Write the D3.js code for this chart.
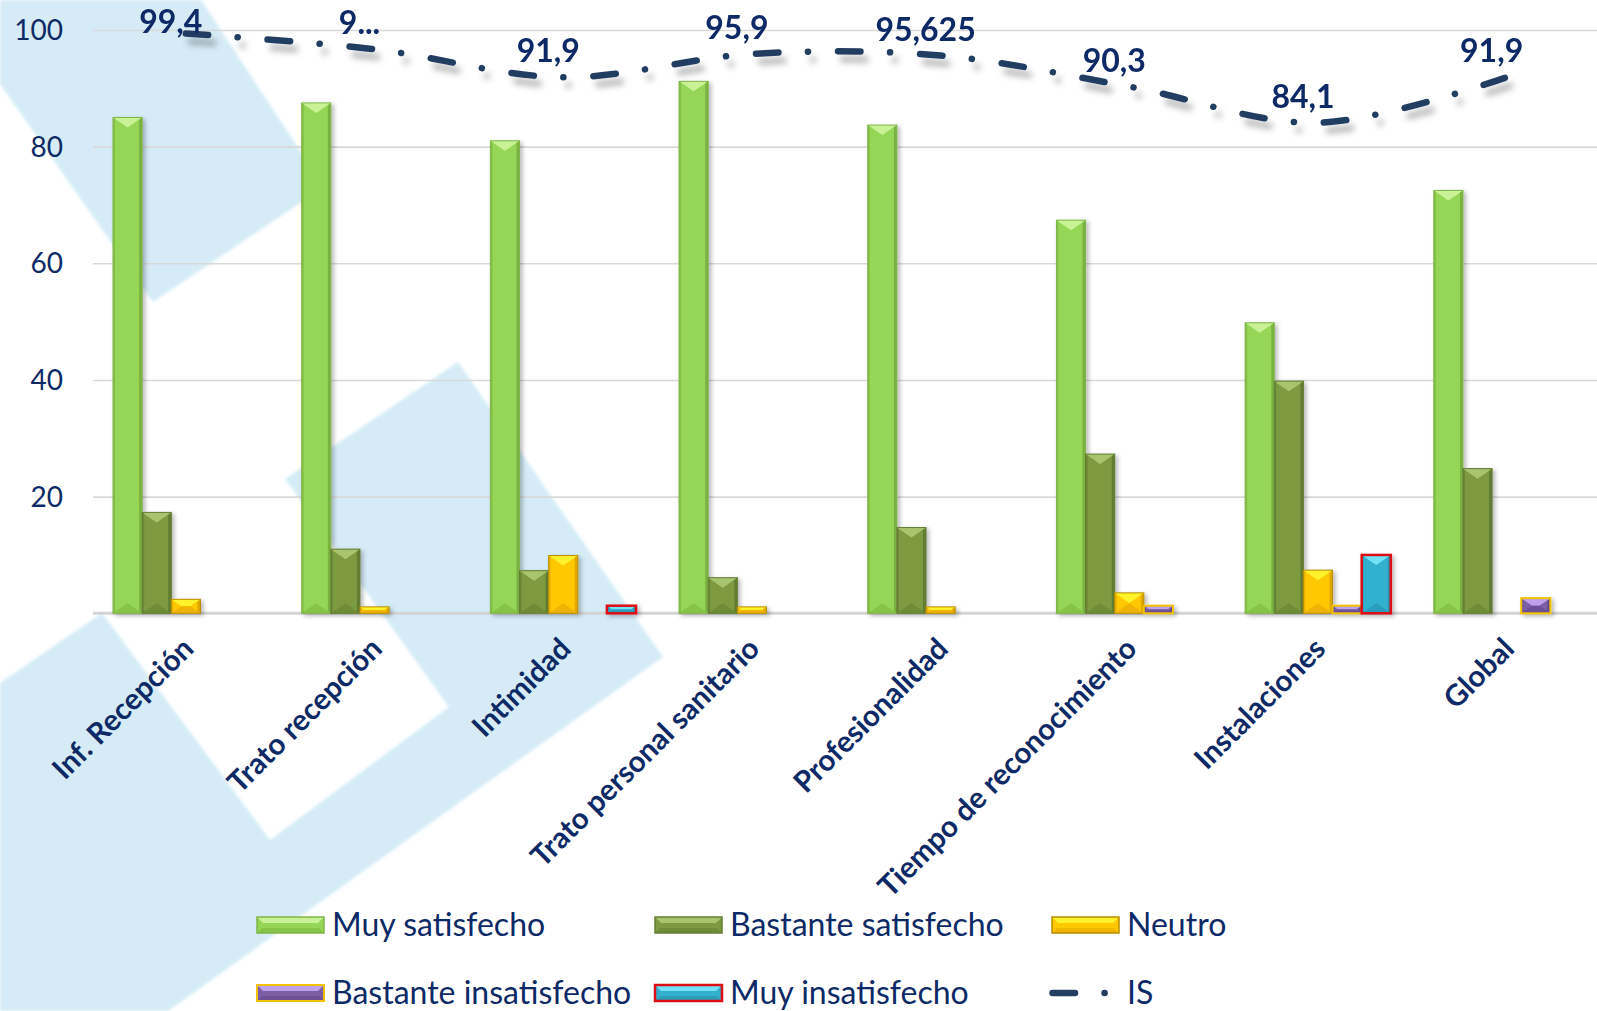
<!DOCTYPE html>
<html>
<head>
<meta charset="utf-8">
<script src="https://cdn.jsdelivr.net/npm/d3@7"></script>
<style>
  html, body { margin: 0; padding: 0; background: #ffffff; }
  svg { display: block; font-family: Lato, "Open Sans", sans-serif; }
</style>
</head>
<body>
<svg id="chart" width="1597" height="1011"></svg>
<script>
// ---- data -------------------------------------------------------------
const categories = [
  "Inf. Recepción", "Trato recepción", "Intimidad", "Trato personal sanitario",
  "Profesionalidad", "Tiempo de reconocimiento", "Instalaciones", "Global"
];
const seriesNames = ["Muy satisfecho", "Bastante satisfecho", "Neutro", "Bastante insatisfecho", "Muy insatisfecho"];
const muySatisfecho        = [85, 87.5, 81, 91.2, 83.7, 67.4, 49.8, 72.5];
const bastanteSatisfecho   = [17.3, 11, 7.3, 6.1, 14.7, 27.3, 39.8, 24.8];
const neutro               = [2.4, 1.1, 9.9, 1.1, 1.1, 3.5, 7.4, 0];
const bastanteInsatisfecho = [0, 0, 0, 0, 0, 1.3, 1.3, 2.6];
const muyInsatisfecho      = [0, 0, 1.3, 0, 0, 0, 10, 0];
const isName = "IS";
const isValues = [99.4, 96.7, 91.9, 95.9, 95.625, 90.3, 84.1, 91.9];
const clippedLabels = [1];          // labels shown cut off to their first character
const yTicks = [20, 40, 60, 80, 100];

const seriesValues = [muySatisfecho, bastanteSatisfecho, neutro, bastanteInsatisfecho, muyInsatisfecho];

// ---- styles ------------------------------------------------------------
const W = 1597, H = 1011;
const textColor = "#0d2a66";
const lineColor = "#243e62";
const bgBlue = "#d5ecf6";
const looks = [
  { base: "#95d657", top: "#c8f295", bottom: "#86c447", edge: "#74ac3c", stroke: "#7fb548", sw: 1 },
  { base: "#7c9a41", top: "#a9c46e", bottom: "#6f8b39", edge: "#5e7630", stroke: "#637d33", sw: 1 },
  { base: "#ffc800", top: "#fff22a", bottom: "#f0b400", edge: "#d9a200", stroke: "#b98d00", sw: 1 },
  { base: "#7d5ea6", top: "#bfa0ea", bottom: "#6c4f94", edge: "#5f4585", stroke: "#f2c200", sw: 2 },
  { base: "#33b0cf", top: "#72e3f7", bottom: "#2a9dbb", edge: "#2690ad", stroke: "#dc0f14", sw: 2.5 }
];

const svg = d3.select("#chart");
const defs = svg.append("defs");

const soft = defs.append("filter").attr("id", "soft")
  .attr("x", "-5%").attr("y", "-5%").attr("width", "110%").attr("height", "110%");
soft.append("feGaussianBlur").attr("stdDeviation", 1.6);

const barShadow = defs.append("filter").attr("id", "barShadow")
  .attr("x", "-30%").attr("y", "-10%").attr("width", "160%").attr("height", "130%");
barShadow.append("feDropShadow").attr("dx", 2.5).attr("dy", 2).attr("stdDeviation", 2)
  .attr("flood-color", "#000").attr("flood-opacity", 0.28);

const lineShadow = defs.append("filter").attr("id", "lineShadow")
  .attr("x", "-5%").attr("y", "-30%").attr("width", "110%").attr("height", "180%");
lineShadow.append("feDropShadow").attr("dx", 5).attr("dy", 8).attr("stdDeviation", 3)
  .attr("flood-color", "#000").attr("flood-opacity", 0.28);

// ---- decorative background shapes ---------------------------------------
const decor = [
  [[0, 0], [201, 0], [324, 187], [153, 302], [0, 84]],
  [[458, 362], [663, 657], [168, 1011], [0, 1011], [0, 683], [102, 613],
   [270, 840], [449, 707], [285, 479]]
];
svg.append("g").attr("filter", "url(#soft)")
  .selectAll("polygon").data(decor).join("polygon")
  .attr("points", d => d.map(p => p.join(",")).join(" "))
  .attr("fill", bgBlue);

// ---- scales -----------------------------------------------------------
const x = d3.scaleBand().domain(categories).range([91.5, 1601]).padding(0);
const groupPad = 21.5;
const x1 = d3.scaleBand().domain(seriesNames)
  .range([groupPad, x.bandwidth() - groupPad]).padding(0);
const y = d3.scaleLinear().domain([0, 100]).range([613.3, 30]);

// ---- grid & axes --------------------------------------------------------
const yAxis = d3.axisLeft(y).tickValues(yTicks).tickSize(-(W - 93)).tickPadding(30);
const gy = svg.append("g").attr("transform", "translate(93,0)").call(yAxis);
gy.select(".domain").remove();
gy.selectAll(".tick line").attr("stroke", "#d9d9d9").attr("stroke-width", 1.6);
gy.selectAll(".tick text")
  .attr("fill", textColor).attr("font-size", 28).attr("font-family", "Lato")
  .attr("x", -30).attr("dy", "0.34em");

svg.append("line")
  .attr("x1", 93).attr("x2", W).attr("y1", y(0)).attr("y2", y(0))
  .attr("stroke", "#d4d4d4").attr("stroke-width", 3);

// ---- bars --------------------------------------------------------------
function bevelBar(g, bx, by, w, h, c) {
  if (h <= 0) return;
  const hi = Math.min(10, h / 2);
  const wi = Math.min(w / 2, hi * 1.45);
  const b = g.append("g");
  b.append("rect").attr("x", bx).attr("y", by).attr("width", w).attr("height", h)
    .attr("fill", c.base);
  // side faces
  b.append("rect").attr("x", bx).attr("y", by).attr("width", 2).attr("height", h)
    .attr("fill", c.edge).attr("opacity", 0.55);
  b.append("rect").attr("x", bx + w - 3).attr("y", by).attr("width", 3).attr("height", h)
    .attr("fill", c.edge).attr("opacity", 0.85);
  // top and bottom faces
  b.append("polygon")
    .attr("points", [[bx, by], [bx + w, by], [bx + w - wi, by + hi], [bx + wi, by + hi]].map(p => p.join(",")).join(" "))
    .attr("fill", c.top);
  b.append("polygon")
    .attr("points", [[bx, by + h], [bx + w, by + h], [bx + w - wi, by + h - hi], [bx + wi, by + h - hi]].map(p => p.join(",")).join(" "))
    .attr("fill", c.bottom);
  b.append("rect").attr("x", bx).attr("y", by).attr("width", w).attr("height", h)
    .attr("fill", "none").attr("stroke", c.stroke).attr("stroke-width", c.sw);
}

const barLayer = svg.append("g").attr("filter", "url(#barShadow)");
categories.forEach((cat, ci) => {
  const g = barLayer.append("g").attr("transform", `translate(${x(cat)},0)`);
  seriesNames.forEach((s, si) => {
    const v = seriesValues[si][ci];
    if (!v) return;
    bevelBar(g, x1(s), y(v), x1.bandwidth(), y(0) - y(v), looks[si]);
  });
});

// ---- IS line -----------------------------------------------------------
const dash = "22.5,29.5,0.1,30";
const cx = c => x(c) + x.bandwidth() / 2;
const line = d3.line()
  .x((d, i) => cx(categories[i]))
  .y(d => y(d))
  .curve(d3.curveCatmullRom.alpha(0.5));

svg.append("path")
  .datum(isValues)
  .attr("d", line)
  .attr("fill", "none")
  .attr("stroke", lineColor)
  .attr("stroke-width", 6.5)
  .attr("stroke-linecap", "round")
  .attr("stroke-dasharray", dash)
  .attr("filter", "url(#lineShadow)");

// value labels
const fmt = d3.formatLocale({ decimal: ",", thousands: ".", grouping: [3], currency: ["", ""] }).format("~r");
svg.append("g").selectAll("text").data(isValues).join("text")
  .attr("x", (d, i) => cx(categories[i]) - 15)
  .attr("y", d => Math.max(y(d) - 15, 33))
  .attr("text-anchor", "middle")
  .attr("font-family", "Lato").attr("font-weight", 700).attr("font-size", 32)
  .attr("fill", textColor)
  .text((d, i) => {
    const s = fmt(d);
    return clippedLabels.includes(i) ? s[0] + "..." : s;
  });

// ---- category labels -----------------------------------------------------
svg.append("g").selectAll("text").data(categories).join("text")
  .attr("transform", d => `translate(${cx(d) + 2},${y(0) + 30}) rotate(-45)`)
  .attr("text-anchor", "end")
  .attr("dy", "0.35em")
  .attr("font-family", "Lato").attr("font-weight", 700).attr("font-size", 29.5)
  .attr("fill", textColor)
  .text(d => d);

// ---- legend ------------------------------------------------------------
const legendItems = seriesNames.map((s, i) => ({ name: s, kind: "bar", look: looks[i] }))
  .concat([{ name: isName, kind: "line" }]);
const legendCols = [257, 655, 1052];
const legendRows = [925, 993];
const legend = svg.append("g");
legendItems.forEach((it, i) => {
  const lx = legendCols[i % 3], ly = legendRows[Math.floor(i / 3)];
  const g = legend.append("g");
  if (it.kind === "bar") {
    const c = it.look, w = 67, h = 16, sx = lx, sy = ly - 8;
    g.append("rect").attr("x", sx).attr("y", sy).attr("width", w).attr("height", h).attr("fill", c.base);
    g.append("polygon")
      .attr("points", [[sx, sy], [sx + w, sy], [sx + w - 6, sy + 6], [sx + 6, sy + 6]].map(p => p.join(",")).join(" "))
      .attr("fill", c.top);
    g.append("polygon")
      .attr("points", [[sx, sy + h], [sx + w, sy + h], [sx + w - 5, sy + h - 5], [sx + 5, sy + h - 5]].map(p => p.join(",")).join(" "))
      .attr("fill", c.bottom);
    g.append("rect").attr("x", sx).attr("y", sy).attr("width", w).attr("height", h)
      .attr("fill", "none").attr("stroke", c.stroke).attr("stroke-width", Math.max(c.sw, 1.5));
  } else {
    g.append("line")
      .attr("x1", lx + 0.5).attr("x2", lx + 56).attr("y1", ly).attr("y2", ly)
      .attr("stroke", lineColor).attr("stroke-width", 6.5)
      .attr("stroke-linecap", "round").attr("stroke-dasharray", dash);
  }
  g.append("text")
    .attr("x", lx + 75).attr("y", ly).attr("dy", "0.35em")
    .attr("font-family", "Lato").attr("font-size", 32)
    .attr("fill", textColor)
    .text(it.name);
});
</script>
</body>
</html>
